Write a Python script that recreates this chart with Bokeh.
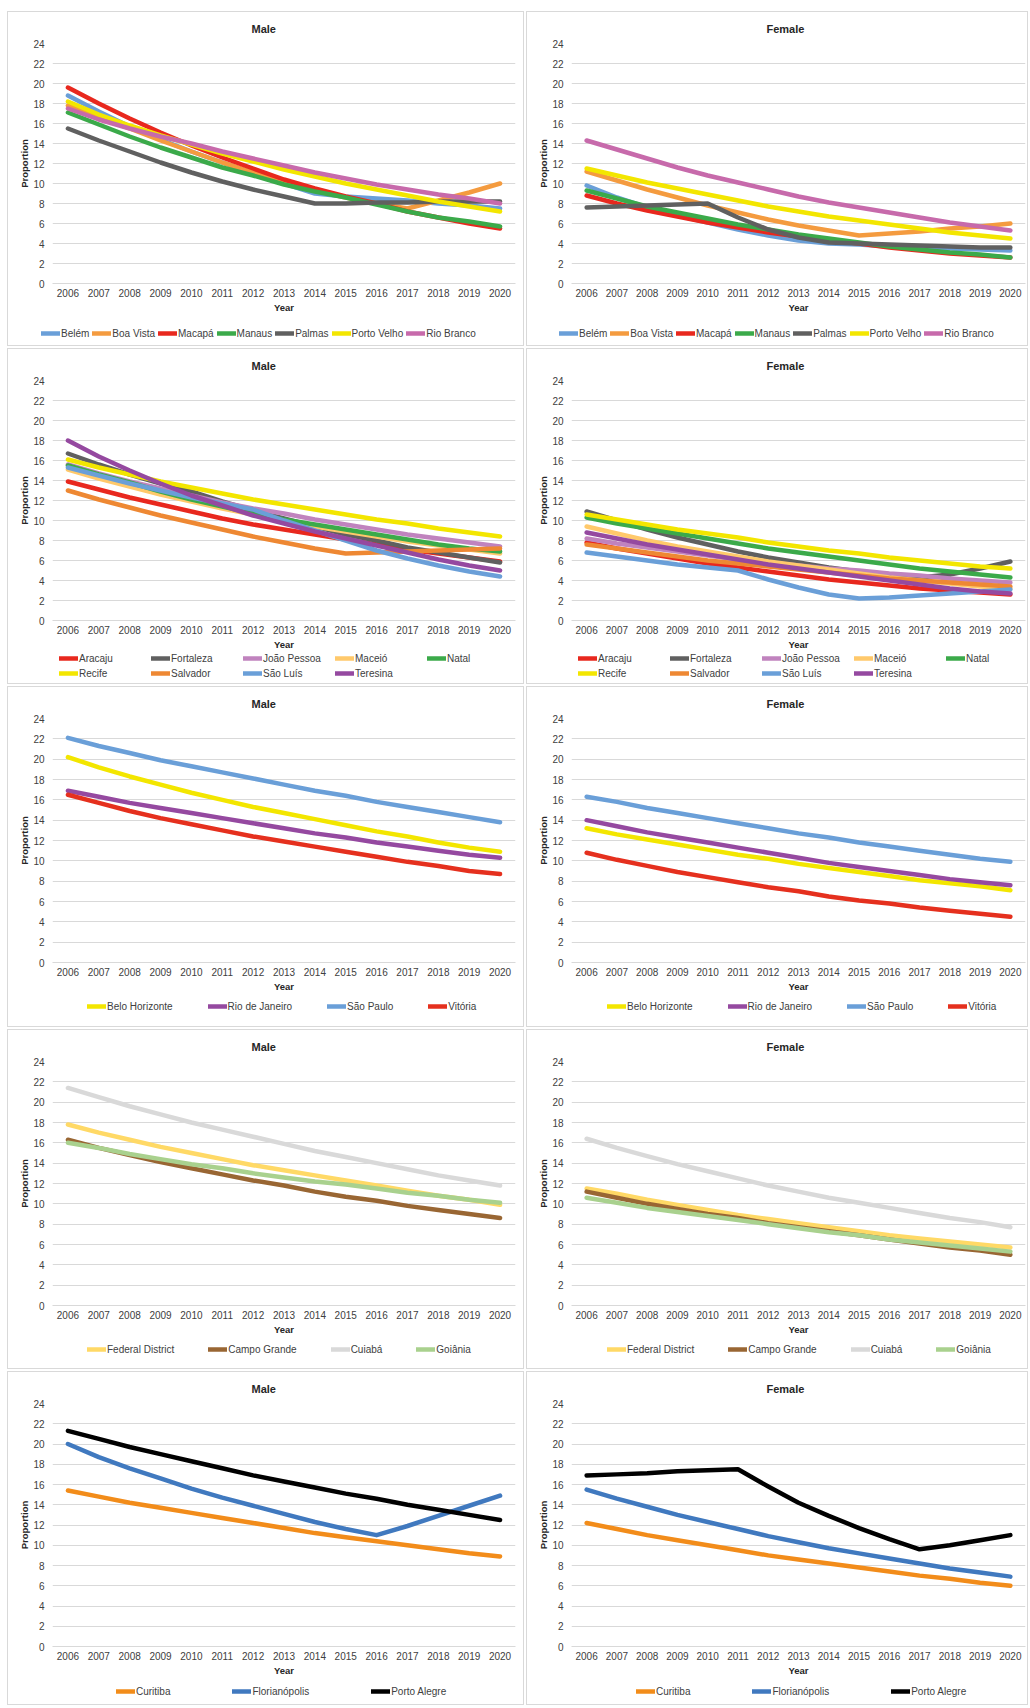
from bokeh.plotting import figure
from bokeh.layouts import column, row
from bokeh.models import Legend, LegendItem, FixedTicker, Range1d
from bokeh.embed import file_html
from bokeh.resources import INLINE

years = list(range(2006, 2021))
y_ticks = list(range(0, 25, 2))

# ---- North ----
north_cities = ["Belém", "Boa Vista", "Macapá", "Manaus", "Palmas", "Porto Velho", "Rio Branco"]
north_colors = ["#6A9FD8", "#F49B3F", "#E8281E", "#3BAA4A", "#606060", "#F3E600", "#C76AAB"]
north_male = {
    "Belém":       [18.8, 17.2, 15.7, 14.4, 13.2, 12.1, 11.0, 10.0, 9.0, 8.7, 8.5, 8.3, 8.0, 7.8, 7.5],
    "Boa Vista":   [17.8, 16.6, 15.5, 14.3, 13.2, 12.1, 11.1, 10.1, 9.3, 8.6, 8.0, 7.5, 8.3, 9.1, 10.0],
    "Macapá":      [19.6, 18.0, 16.5, 15.1, 13.8, 12.6, 11.5, 10.4, 9.5, 8.7, 8.0, 7.2, 6.6, 6.0, 5.5],
    "Manaus":      [17.1, 15.9, 14.7, 13.6, 12.6, 11.6, 10.8, 9.9, 9.2, 8.6, 7.9, 7.2, 6.6, 6.2, 5.7],
    "Palmas":      [15.5, 14.3, 13.2, 12.1, 11.1, 10.2, 9.4, 8.7, 8.0, 8.0, 8.1, 8.1, 8.2, 8.2, 8.2],
    "Porto Velho": [18.2, 16.9, 15.8, 14.8, 13.9, 13.0, 12.2, 11.4, 10.7, 10.0, 9.4, 8.8, 8.2, 7.7, 7.2],
    "Rio Branco":  [17.5, 16.4, 15.5, 14.7, 14.0, 13.2, 12.5, 11.8, 11.1, 10.5, 9.9, 9.4, 8.9, 8.5, 8.0],
}
north_female = {
    "Belém":       [9.8, 8.6, 7.6, 6.8, 6.1, 5.4, 4.8, 4.3, 4.0, 3.9, 3.7, 3.6, 3.5, 3.4, 3.3],
    "Boa Vista":   [11.2, 10.3, 9.4, 8.6, 7.8, 7.1, 6.4, 5.8, 5.3, 4.8, 5.0, 5.2, 5.5, 5.7, 6.0],
    "Macapá":      [8.8, 8.0, 7.3, 6.7, 6.1, 5.6, 5.1, 4.7, 4.3, 4.0, 3.6, 3.3, 3.0, 2.8, 2.6],
    "Manaus":      [9.3, 8.5, 7.7, 7.1, 6.5, 5.9, 5.4, 4.9, 4.5, 4.1, 3.7, 3.4, 3.1, 2.9, 2.6],
    "Palmas":      [7.6, 7.7, 7.8, 7.9, 8.0, 6.6, 5.4, 4.6, 4.1, 4.0, 3.9, 3.8, 3.7, 3.6, 3.6],
    "Porto Velho": [11.5, 10.8, 10.1, 9.5, 8.9, 8.3, 7.7, 7.2, 6.7, 6.3, 5.9, 5.5, 5.1, 4.8, 4.5],
    "Rio Branco":  [14.3, 13.4, 12.5, 11.6, 10.8, 10.1, 9.4, 8.7, 8.1, 7.6, 7.1, 6.6, 6.1, 5.7, 5.3],
}

# ---- Northeast ----
ne_cities = ["Aracaju", "Fortaleza", "João Pessoa", "Maceió", "Natal", "Recife", "Salvador", "São Luís", "Teresina"]
ne_colors = ["#E8281E", "#606060", "#C083BE", "#FFC96B", "#3BAA4A", "#F3E600", "#EE8833", "#6A9FD8", "#9549A0"]
ne_male = {
    "Aracaju":     [13.9, 13.1, 12.3, 11.6, 10.9, 10.2, 9.6, 9.1, 8.6, 8.1, 7.6, 7.1, 6.7, 6.3, 5.9],
    "Fortaleza":   [16.7, 15.6, 14.6, 13.7, 12.9, 11.9, 11.0, 10.2, 9.4, 8.6, 8.0, 7.3, 6.8, 6.3, 5.8],
    "João Pessoa": [15.6, 14.7, 13.9, 13.2, 12.5, 11.8, 11.2, 10.7, 10.1, 9.6, 9.1, 8.6, 8.2, 7.8, 7.4],
    "Maceió":      [15.1, 14.2, 13.4, 12.6, 11.9, 11.2, 10.6, 10.0, 9.4, 8.9, 8.4, 7.9, 7.5, 7.1, 6.7],
    "Natal":       [15.5, 14.6, 13.8, 12.9, 12.1, 11.4, 10.7, 10.1, 9.6, 9.1, 8.6, 8.1, 7.6, 7.2, 6.9],
    "Recife":      [16.1, 15.3, 14.6, 13.9, 13.3, 12.7, 12.1, 11.6, 11.1, 10.6, 10.1, 9.7, 9.2, 8.8, 8.4],
    "Salvador":    [13.0, 12.1, 11.3, 10.5, 9.8, 9.1, 8.4, 7.8, 7.2, 6.7, 6.8, 6.9, 7.0, 7.1, 7.2],
    "São Luís":    [15.3, 14.5, 13.7, 13.0, 12.3, 11.7, 11.1, 10.0, 9.0, 8.0, 7.0, 6.2, 5.5, 4.9, 4.4],
    "Teresina":    [18.0, 16.4, 15.0, 13.7, 12.5, 11.5, 10.5, 9.7, 8.9, 8.2, 7.5, 6.8, 6.1, 5.5, 5.0],
}
ne_female = {
    "Aracaju":     [7.8, 7.2, 6.7, 6.2, 5.7, 5.3, 4.9, 4.5, 4.1, 3.8, 3.5, 3.2, 3.0, 2.8, 2.6],
    "Fortaleza":   [10.9, 10.0, 9.1, 8.3, 7.6, 6.9, 6.3, 5.8, 5.3, 4.9, 4.6, 4.3, 4.6, 5.2, 5.9],
    "João Pessoa": [8.2, 7.7, 7.3, 6.9, 6.5, 6.1, 5.8, 5.5, 5.2, 5.0, 4.7, 4.5, 4.2, 4.0, 3.8],
    "Maceió":      [9.4, 8.7, 8.0, 7.4, 6.9, 6.4, 5.9, 5.5, 5.1, 4.7, 4.3, 4.0, 3.7, 3.4, 3.2],
    "Natal":       [10.3, 9.7, 9.2, 8.7, 8.2, 7.7, 7.2, 6.8, 6.4, 6.0, 5.6, 5.2, 4.9, 4.6, 4.3],
    "Recife":      [10.6, 10.1, 9.6, 9.1, 8.7, 8.3, 7.8, 7.4, 7.0, 6.7, 6.3, 6.0, 5.7, 5.4, 5.2],
    "Salvador":    [7.6, 7.2, 6.8, 6.4, 6.0, 5.7, 5.4, 5.1, 4.8, 4.5, 4.2, 4.0, 3.8, 3.6, 3.4],
    "São Luís":    [6.8, 6.4, 6.0, 5.6, 5.3, 5.0, 4.1, 3.3, 2.6, 2.2, 2.3, 2.5, 2.7, 2.9, 3.1],
    "Teresina":    [8.8, 8.2, 7.6, 7.1, 6.6, 6.1, 5.6, 5.2, 4.8, 4.4, 4.0, 3.6, 3.2, 2.9, 2.7],
}

# ---- Southeast ----
se_cities = ["Belo Horizonte", "Rio de Janeiro", "São Paulo", "Vitória"]
se_colors = ["#F3E600", "#9549A0", "#6A9FD8", "#E5301E"]
se_male = {
    "Belo Horizonte": [20.2, 19.2, 18.3, 17.5, 16.7, 16.0, 15.3, 14.7, 14.1, 13.5, 12.9, 12.4, 11.8, 11.3, 10.9],
    "Rio de Janeiro": [16.9, 16.3, 15.7, 15.2, 14.7, 14.2, 13.7, 13.2, 12.7, 12.3, 11.8, 11.4, 11.0, 10.6, 10.3],
    "São Paulo":      [22.1, 21.3, 20.6, 19.9, 19.3, 18.7, 18.1, 17.5, 16.9, 16.4, 15.8, 15.3, 14.8, 14.3, 13.8],
    "Vitória":        [16.5, 15.7, 14.9, 14.2, 13.6, 13.0, 12.4, 11.9, 11.4, 10.9, 10.4, 9.9, 9.5, 9.0, 8.7],
}
se_female = {
    "Belo Horizonte": [13.2, 12.6, 12.1, 11.6, 11.1, 10.6, 10.2, 9.7, 9.3, 8.9, 8.5, 8.1, 7.8, 7.5, 7.1],
    "Rio de Janeiro": [14.0, 13.4, 12.8, 12.3, 11.8, 11.3, 10.8, 10.3, 9.8, 9.4, 9.0, 8.6, 8.2, 7.9, 7.6],
    "São Paulo":      [16.3, 15.8, 15.2, 14.7, 14.2, 13.7, 13.2, 12.7, 12.3, 11.8, 11.4, 11.0, 10.6, 10.2, 9.9],
    "Vitória":        [10.8, 10.1, 9.5, 8.9, 8.4, 7.9, 7.4, 7.0, 6.5, 6.1, 5.8, 5.4, 5.1, 4.8, 4.5],
}

# ---- Center-West ----
cw_cities = ["Federal District", "Campo Grande", "Cuiabá", "Goiânia"]
cw_colors = ["#FFD966", "#996633", "#D9D9D9", "#A9D18E"]
cw_male = {
    "Federal District": [17.8, 17.0, 16.3, 15.6, 15.0, 14.4, 13.8, 13.3, 12.8, 12.3, 11.8, 11.3, 10.8, 10.4, 9.9],
    "Campo Grande":     [16.3, 15.5, 14.8, 14.1, 13.5, 12.9, 12.3, 11.8, 11.2, 10.7, 10.3, 9.8, 9.4, 9.0, 8.6],
    "Cuiabá":           [21.4, 20.5, 19.6, 18.8, 18.0, 17.3, 16.6, 15.9, 15.2, 14.6, 14.0, 13.4, 12.8, 12.3, 11.8],
    "Goiânia":          [16.0, 15.5, 14.9, 14.4, 13.9, 13.5, 13.0, 12.6, 12.2, 11.9, 11.5, 11.1, 10.8, 10.4, 10.1],
}
cw_female = {
    "Federal District": [11.5, 11.0, 10.4, 9.9, 9.4, 8.9, 8.5, 8.1, 7.7, 7.3, 6.9, 6.6, 6.3, 6.0, 5.7],
    "Campo Grande":     [11.2, 10.6, 10.0, 9.5, 9.0, 8.6, 8.1, 7.7, 7.3, 6.9, 6.5, 6.1, 5.7, 5.4, 5.0],
    "Cuiabá":           [16.4, 15.5, 14.7, 13.9, 13.2, 12.5, 11.8, 11.2, 10.6, 10.1, 9.6, 9.1, 8.6, 8.2, 7.7],
    "Goiânia":          [10.6, 10.1, 9.6, 9.2, 8.8, 8.4, 8.0, 7.6, 7.2, 6.9, 6.5, 6.2, 5.9, 5.6, 5.3],
}

# ---- South ----
s_cities = ["Curitiba", "Florianópolis", "Porto Alegre"]
s_colors = ["#F28C1A", "#4079BF", "#000000"]
s_male = {
    "Curitiba":      [15.4, 14.8, 14.2, 13.7, 13.2, 12.7, 12.2, 11.7, 11.2, 10.8, 10.4, 10.0, 9.6, 9.2, 8.9],
    "Florianópolis": [20.0, 18.7, 17.6, 16.6, 15.6, 14.7, 13.9, 13.1, 12.3, 11.6, 11.0, 11.9, 12.9, 13.9, 14.9],
    "Porto Alegre":  [21.3, 20.5, 19.7, 19.0, 18.3, 17.6, 16.9, 16.3, 15.7, 15.1, 14.6, 14.0, 13.5, 13.0, 12.5],
}
s_female = {
    "Curitiba":      [12.2, 11.6, 11.0, 10.5, 10.0, 9.5, 9.0, 8.6, 8.2, 7.8, 7.4, 7.0, 6.7, 6.3, 6.0],
    "Florianópolis": [15.5, 14.6, 13.8, 13.0, 12.3, 11.6, 10.9, 10.3, 9.7, 9.2, 8.7, 8.2, 7.7, 7.3, 6.9],
    "Porto Alegre":  [16.9, 17.0, 17.1, 17.3, 17.4, 17.5, 15.8, 14.2, 12.9, 11.7, 10.6, 9.6, 10.0, 10.5, 11.0],
}

FONT = "Liberation Sans"
LEFT_W, RIGHT_W = 515, 500                 # inner widths (1px border drawn around each panel)
OUTER_H = [335, 336, 341, 340, 334]        # panel heights incl. border
FRAME_H = [243, 243, 247, 247, 246]


def make_main(title, cities, colors, series, width, frame_h, is_left):
    height = 30 + frame_h + 30
    p = figure(width=width, height=height,
               x_range=Range1d(2005.5, 2020.5), y_range=Range1d(0, 24),
               output_backend="svg", toolbar_location=None,
               min_border_left=44, min_border_right=8 if is_left else 2,
               min_border_top=30, min_border_bottom=30,
               background_fill_color="white", border_fill_color="white")
    p.outline_line_color = None
    p.title.text = title
    p.title.align = "left"
    p.title.offset = 199 if is_left else 195
    p.title.text_font = FONT
    p.title.text_font_size = "11px"
    p.title.text_font_style = "bold"
    p.title.text_color = "#262626"
    p.title.standoff = 17

    p.xgrid.visible = False
    p.ygrid.grid_line_color = "#d9d9d9"
    p.ygrid.grid_line_width = 1

    p.xaxis.ticker = FixedTicker(ticks=years)
    p.yaxis.ticker = FixedTicker(ticks=y_ticks)
    for ax in (p.xaxis[0], p.yaxis[0]):
        ax.major_tick_line_color = None
        ax.minor_tick_line_color = None
        ax.major_tick_out = 0
        ax.major_tick_in = 0
        ax.minor_tick_out = 0
        ax.major_label_text_font = FONT
        ax.major_label_text_font_size = "10px"
        ax.major_label_text_color = "#404040"
        ax.axis_label_text_font = FONT
        ax.axis_label_text_font_size = "9.5px"
        ax.axis_label_text_font_style = "bold"
        ax.axis_label_text_color = "#262626"
    p.xaxis.axis_line_color = "#d9d9d9"
    p.yaxis.axis_line_color = None
    p.xaxis.axis_label = "Year"
    p.yaxis.axis_label = "Proportion"
    p.xaxis.major_label_standoff = 5
    p.xaxis.axis_label_standoff = 2
    p.yaxis.major_label_standoff = 8
    p.yaxis.axis_label_standoff = 0

    for name, col in zip(cities, colors):
        p.line(years, series[name], line_width=4.5, line_color=col,
               line_cap="round", line_join="round")
    return p


def make_legend(cities, colors, series, width, height, loc, spacing, label_width=10, ncols=None):
    # legend strip: the series are drawn outside its (empty) visible range, only the legend shows
    lf = figure(width=width, height=height, x_range=Range1d(2005.5, 2020.5),
                y_range=Range1d(100, 101),
                x_axis_type=None, y_axis_type=None, output_backend="svg",
                toolbar_location=None, min_border=0,
                min_border_left=0, min_border_right=0, min_border_top=0, min_border_bottom=0,
                background_fill_color="white", border_fill_color="white")
    if "frame_align" in lf.properties():
        lf.frame_align = False
    lf.outline_line_color = None
    items = []
    for name, col in zip(cities, colors):
        r = lf.line(years, series[name], line_width=4.5, line_color=col, line_cap="round")
        items.append(LegendItem(label=name, renderers=[r]))
    kw = {"ncols": ncols} if ncols else {}
    legend = Legend(items=items, orientation="horizontal", location=loc,
                    label_text_font=FONT, label_text_font_size="10px",
                    label_text_color="#404040", glyph_width=19, glyph_height=12,
                    label_height=12, label_width=label_width, label_standoff=1,
                    spacing=spacing, padding=0, margin=0,
                    border_line_color=None, background_fill_alpha=0, **kw)
    lf.add_layout(legend, "center")
    return lf


specs = [
    (north_cities, north_colors, north_male, north_female,
     dict(spacing=3), (33, 6), (32, 6)),
    (ne_cities, ne_colors, ne_male, ne_female,
     dict(spacing=3, label_width=69, ncols=5), (51, 4), (51, 4)),
    (se_cities, se_colors, se_male, se_female,
     dict(spacing=35), (79, 14), (80, 14)),
    (cw_cities, cw_colors, cw_male, cw_female,
     dict(spacing=34), (79, 13), (80, 13)),
    (s_cities, s_colors, s_male, s_female,
     dict(spacing=62), (108, 7), (109, 7)),
]

BORDER = {"border": "1px solid #d9d9d9"}
rows = []
for i, (cities, colors, male, female, lkw, loc_l, loc_r) in enumerate(specs):
    main_h = 30 + FRAME_H[i] + 30
    leg_h = OUTER_H[i] - 2 - main_h
    pm = make_main("Male", cities, colors, male, LEFT_W, FRAME_H[i], True)
    lm = make_legend(cities, colors, male, LEFT_W, leg_h, loc_l, **lkw)
    pf = make_main("Female", cities, colors, female, RIGHT_W, FRAME_H[i], False)
    lfm = make_legend(cities, colors, female, RIGHT_W, leg_h, loc_r, **lkw)
    left = column(pm, lm, spacing=0, styles=BORDER)
    right = column(pf, lfm, spacing=0, styles=BORDER)
    rows.append(row(left, right, spacing=2))

layout = column(*rows, spacing=2, margin=(11, 0, 0, 7))

with open("out.html", "w") as f:
    f.write(file_html(layout, INLINE))
